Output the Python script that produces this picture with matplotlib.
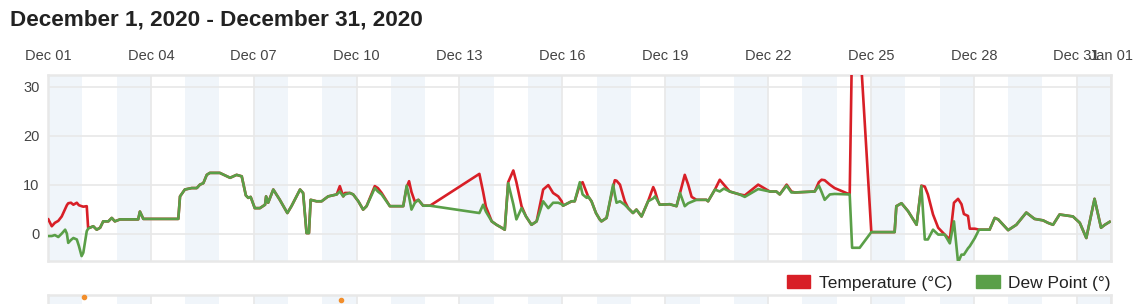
import matplotlib.pyplot as plt
from matplotlib.patches import Patch
from datetime import datetime, timedelta

plt.rcParams['font.family'] = ['Liberation Sans', 'DejaVu Sans']

title = "December 1, 2020 - December 31, 2020"
start = datetime(2020, 12, 1)

# time in days since Dec 01 00:00
days = [0.01, 0.11, 0.20, 0.30, 0.40, 0.50, 0.55, 0.59, 0.67, 0.74, 0.84, 0.90,
        0.98, 1.03, 1.13, 1.17, 1.22, 1.32, 1.42, 1.52, 1.61, 1.76, 1.86, 1.95,
        2.10, 2.63, 2.68, 2.78, 3.80, 3.85, 3.99, 4.19, 4.34, 4.43, 4.53, 4.63,
        4.72, 5.01, 5.31, 5.50, 5.65, 5.77, 5.84, 5.91, 6.03, 6.18, 6.33, 6.36,
        6.42, 6.57, 6.76, 6.98, 7.10, 7.35, 7.44, 7.54, 7.61, 7.66, 7.83, 7.98,
        8.17, 8.42, 8.51, 8.61, 8.66, 8.80, 8.90, 9.05, 9.19, 9.29, 9.53, 9.62,
        9.73, 9.97, 10.36, 10.46, 10.53, 10.60, 10.70, 10.80, 10.94, 11.14,
        12.58, 12.69, 12.77, 12.94, 13.08, 13.23, 13.32, 13.42, 13.57, 13.66,
        13.81, 13.94, 14.10, 14.25, 14.44, 14.59, 14.73, 14.88, 14.98, 15.02,
        15.27, 15.36, 15.51, 15.59, 15.71, 15.75, 15.85, 15.98, 16.09, 16.14,
        16.29, 16.48, 16.53, 16.58, 16.68, 16.82, 16.92, 17.06, 17.16, 17.31,
        17.50, 17.65, 17.70, 17.79, 17.84, 18.13, 18.33, 18.43, 18.57, 18.67,
        18.77, 18.91, 19.20, 19.25, 19.45, 19.59, 19.71, 19.88, 20.17, 20.32,
        20.71, 21.05, 21.24, 21.34, 21.54, 21.68, 21.78, 22.36, 22.48, 22.56,
        22.65, 22.80, 22.94, 23.38, 23.45, 23.67, 24.01, 24.69, 24.74, 24.89,
        25.08, 25.33, 25.47, 25.57, 25.66, 25.81, 25.96, 26.15, 26.30, 26.42,
        26.54, 26.64, 26.71, 26.83, 26.88, 27.03, 27.15, 27.46, 27.61, 27.71,
        28.00, 28.24, 28.53, 28.77, 29.02, 29.16, 29.31, 29.50, 29.70, 29.89,
        30.09, 30.28, 30.52, 30.71, 30.82, 30.96]

temperature = [2.9, 1.5, 2.2, 2.6, 3.5, 5.0, 5.8, 6.2, 6.3, 5.9, 6.3, 5.8,
               5.6, 5.5, 5.6, 1.2, 1.2, 1.5, 0.8, 1.2, 2.5, 2.5, 3.2, 2.5,
               2.9, 2.9, 4.5, 3.0, 3.0, 7.6, 9.0, 9.3, 9.3, 10.0, 10.3, 12.0,
               12.4, 12.4, 11.4, 12.0, 11.7, 7.8, 7.3, 7.5, 5.2, 5.2, 5.9, 7.6,
               6.3, 9.0, 6.9, 4.2, 5.6, 9.0, 8.3, 0.1, 0.1, 6.9, 6.6, 6.6,
               7.6, 8.0, 9.7, 7.6, 8.3, 8.3, 8.0, 6.6, 4.9, 5.6, 9.7, 9.3,
               8.3, 5.6, 5.6, 9.5, 10.7, 8.5, 6.5, 6.9, 5.7, 5.7,
               12.2, 8.5, 5.5, 2.5, 1.8, 1.2, 0.8, 10.5, 12.9, 10.5,
               5.6, 3.5, 1.8, 2.5, 9.0, 9.9, 8.3, 7.6, 6.6, 5.7,
               6.6, 6.6, 10.0, 10.5, 8.3, 7.6, 6.6, 4.2, 2.9, 2.5,
               3.2, 9.5, 10.9, 10.8, 10.0, 6.6, 5.2, 4.2, 4.9, 3.5,
               6.6, 9.5, 8.7, 6.6, 5.9, 6.0, 5.6, 8.3, 12.0, 10.0,
               7.5, 6.9, 6.9, 6.6, 9.0, 11.0, 10.0, 8.6, 8.0, 7.8,
               10.0, 8.6, 8.6, 8.0, 10.0, 8.6, 8.4, 8.6, 10.5, 11.0,
               10.9, 10.0, 9.3, 8.0, 40.0, 40.0, 0.3, 0.3, 5.6, 6.2,
               4.6, 1.8, 9.8, 9.6, 8.0, 3.9, 1.2, -0.2, -1.2, 6.3,
               7.1, 6.0, 4.0, 3.6, 1.0, 1.0, 0.8, 0.8, 3.2, 2.9,
               0.7, 1.8, 4.3, 3.0, 2.7, 2.2, 1.8, 3.9, 3.7, 3.5,
               2.2, -0.9, 7.1, 1.2, 1.8, 2.4]

dew_point = [-0.5, -0.5, -0.3, -0.7, 0.0, 0.8, 0.0, -1.9, -1.3, -0.9, -1.2, -2.5,
             -4.6, -3.9, 0.5, 1.0, 1.2, 1.5, 0.8, 1.2, 2.5, 2.5, 3.2, 2.5,
             2.9, 2.9, 4.5, 3.0, 3.0, 7.6, 9.0, 9.3, 9.3, 10.0, 10.3, 12.0,
             12.4, 12.4, 11.4, 12.0, 11.7, 7.8, 7.3, 7.5, 5.2, 5.2, 5.9, 7.6,
             6.3, 9.0, 6.9, 4.2, 5.6, 9.0, 8.3, 0.1, 0.1, 6.9, 6.6, 6.6,
             7.6, 8.0, 8.6, 7.6, 8.0, 8.3, 8.0, 6.6, 4.9, 5.6, 9.3, 8.6,
             8.0, 5.6, 5.6, 9.8, 7.5, 4.9, 6.3, 6.9, 5.7, 5.7,
             4.2, 5.9, 4.5, 2.5, 1.8, 1.2, 0.8, 10.3, 6.0, 2.9,
             5.2, 3.5, 1.8, 2.5, 6.6, 5.2, 6.3, 6.3, 6.0, 5.7,
             6.6, 6.6, 10.5, 8.0, 7.3, 7.6, 6.6, 4.2, 2.9, 2.5,
             3.2, 10.0, 8.0, 6.3, 6.6, 5.9, 5.2, 4.2, 4.9, 3.5,
             6.6, 7.2, 7.6, 6.6, 5.9, 6.0, 5.6, 8.3, 5.6, 6.2,
             6.5, 6.9, 6.9, 6.6, 9.0, 8.6, 9.2, 8.6, 8.0, 7.5,
             9.1, 8.6, 8.6, 8.0, 9.8, 8.4, 8.4, 8.6, 9.8, 8.5,
             6.9, 8.0, 8.1, 8.0, -2.9, -2.9, 0.3, 0.3, 5.6, 6.2,
             4.6, 1.8, 9.7, -1.2, -1.2, 0.8, -0.2, -0.2, -2.0, 2.5,
             -5.9, -4.3, -4.3, -3.0, -2.6, -0.9, 0.8, 0.8, 3.2, 2.9,
             0.7, 1.8, 4.3, 3.0, 2.7, 2.2, 1.8, 3.9, 3.7, 3.5,
             2.2, -0.9, 7.1, 1.2, 1.8, 2.4]

# second (lower) panel, only its top edge is visible
extra_days = [1.05, 8.54]
extra_values = [9.9, 9.7]

tick_days = list(range(0, 31, 3)) + [31]
tick_labels = [(start + timedelta(days=d)).strftime("%b %d") for d in tick_days]
shaded_days = list(range(0, 31, 2))
y_ticks = [0, 10, 20, 30]

RED = '#d81f27'
GREEN = '#5a9f48'
GRID = '#e8e8e8'
SHADE = '#f0f5fa'
TEXT = '#444444'

W, H = 1145, 304
fig = plt.figure(figsize=(W / 100, H / 100), dpi=100)
fig.text(10 / W, 1 - 20 / H, title, fontsize=16.2, fontweight='bold',
         color='#222222', va='center', ha='left')


def style_panel(a):
    for d in shaded_days:
        a.axvspan(d, d + 1, color=SHADE, lw=0, zorder=0)
    for d in tick_days:
        a.axvline(d, color=GRID, lw=1.2, zorder=1)
    for s in a.spines.values():
        s.set_color(GRID)
        s.set_linewidth(1.8)
    a.set_xlim(0, 31)


ax = fig.add_axes([48 / W, 1 - 261 / H, (1111 - 48) / W, (261 - 75) / H])
style_panel(ax)
for v in y_ticks:
    ax.axhline(v, color=GRID, lw=1.2, zorder=1)
ax.plot(days, temperature, color=RED, lw=1.9, zorder=3)
ax.plot(days, dew_point, color=GREEN, lw=1.9, zorder=4)
ax.set_ylim(-5.6, 32.4)
ax.set_xticks(tick_days)
ax.set_xticklabels(tick_labels)
ax.xaxis.tick_top()
ax.set_yticks(y_ticks)
ax.tick_params(axis='x', length=0, pad=9, labelsize=10.5, labelcolor=TEXT)
ax.tick_params(axis='y', length=0, pad=6, labelsize=10.5, labelcolor=TEXT)

ax2 = fig.add_axes([48 / W, 1 - 295 / H - 0.5, (1111 - 48) / W, 0.5])
style_panel(ax2)
ax2.set_ylim(0, 10)
ax2.plot(extra_days, extra_values, 'o', color='#f28e2b', ms=3, zorder=3,
         clip_on=False)
ax2.set_xticks([])
ax2.set_yticks([])

handles = [Patch(color=RED, label='Temperature (°C)'),
           Patch(color=GREEN, label='Dew Point (°)')]
fig.legend(handles=handles, loc='center right', ncol=2, frameon=False,
           bbox_to_anchor=(1111 / W, 1 - 283 / H), fontsize=12.5,
           handlelength=1.35, handleheight=0.8, handletextpad=0.5,
           columnspacing=1.4, borderpad=0, borderaxespad=0,
           labelcolor='#222222')

fig.savefig('out.png', dpi=100)
